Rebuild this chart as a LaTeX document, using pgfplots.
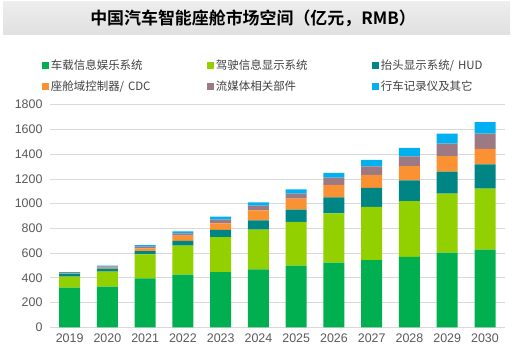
\documentclass[border=0pt]{standalone}
\usepackage{pgfplots}
\pgfplotsset{compat=1.18}
\usepackage{fontspec}
\setmainfont{Liberation Sans}
\newfontfamily\cjk[BoldFont={Noto Sans CJK SC Bold}]{Noto Sans CJK SC}
\definecolor{cA}{RGB}{0,176,80}
\definecolor{cB}{RGB}{146,208,0}
\definecolor{cC}{RGB}{0,133,133}
\definecolor{cD}{RGB}{250,145,50}
\definecolor{cE}{RGB}{155,122,132}
\definecolor{cF}{RGB}{0,176,240}
\definecolor{tk}{RGB}{89,89,89}
\definecolor{gr}{RGB}{217,217,217}
\pgfplotstableread{
x a b c d e f
0 320 89 24 3 4 7
1 328 122 24 8 8 8
2 396 194 27 22 13 13
3 425 235 38 43 19 16
4 447 283 57 54 29 25
5 469 321 75 81 38 27
6 499 353 99 89 41 35
7 523 399 129 100 59 38
8 544 429 154 105 70 51
9 569 452 168 115 79 67
10 604 477 178 126 100 81
11 628 493 197 124 124 94
}\data
\begin{document}
\begin{tikzpicture}[x=1bp,y=1bp]
\path[use as bounding box] (0,0) rectangle (512,361);
\shade[top color=gray!14,bottom color=gray!24] (3,327) rectangle (510,359);
\node[font=\cjk\bfseries\fontsize{17}{20}\selectfont] at (253,343) {中国汽车智能座舱市场空间（亿元，RMB）};
\begin{axis}[
  at={(50bp,33.7bp)}, anchor=south west,
  scale only axis, width=455bp, height=222.6bp,
  ybar stacked, bar width=21bp,
  xmin=-0.52, xmax=11.53, ymin=0, ymax=1800,
  xtick=data, xticklabels={2019,2020,2021,2022,2023,2024,2025,2026,2027,2028,2029,2030},
  ytick={0,200,...,1800},
  ymajorgrids, grid style={gr, line width=0.8bp},
  axis line style={draw=none},
  major tick length=0,
  ticklabel style={font=\fontsize{12.5}{14}\selectfont, text=tk},
  /pgf/number format/assume math mode=true,
  /pgf/number format/1000 sep={},
  yticklabel style={xshift=-4bp},
  xticklabel style={yshift=-3bp},
  legend columns=3,
  legend style={draw=none, fill=none, at={(-0.018,1.212)}, anchor=north west,
    font=\cjk\fontsize{11.5}{13}\selectfont, text=black!75,
    /tikz/every even column/.append style={text width=154bp},
    row sep=5.5bp, inner sep=0pt},
  legend image code/.code={\fill[#1] (0bp,-3.5bp) rectangle (7bp,3.5bp);},
]
\addplot[fill=cA, draw=none] table[x=x,y=a]{\data};
\addplot[fill=cB, draw=none] table[x=x,y=b]{\data};
\addplot[fill=cC, draw=none] table[x=x,y=c]{\data};
\addplot[fill=cD, draw=none] table[x=x,y=d]{\data};
\addplot[fill=cE, draw=none] table[x=x,y=e]{\data};
\addplot[fill=cF, draw=none] table[x=x,y=f]{\data};
\legend{车载信息娱乐系统,驾驶信息显示系统,抬头显示系统/ HUD,座舱域控制器/ CDC,流媒体相关部件,行车记录仪及其它}
\end{axis}
\end{tikzpicture}
\end{document}
